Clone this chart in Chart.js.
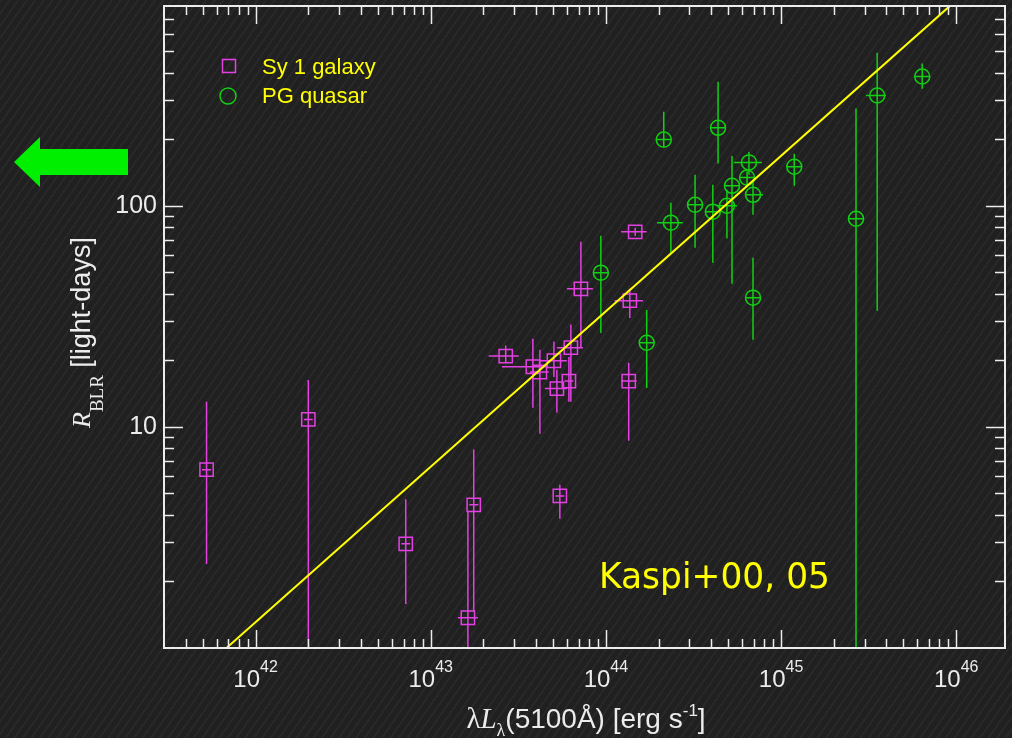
<!DOCTYPE html>
<html>
<head>
<meta charset="utf-8">
<script src="https://cdn.jsdelivr.net/npm/chart.js@4"></script>
<style>
body{margin:0;background:#202020;}
#wrap{position:relative;width:1012px;height:738px;overflow:hidden;
  background-color:#202020;
  background-image:repeating-linear-gradient(125deg,rgba(255,255,255,0.035) 0 2px,transparent 2px 7px);}
#chart{position:absolute;left:0;top:0;}
#arrow{position:absolute;left:0;top:0;}
</style>
</head>
<body>
<div id="wrap">
<canvas id="chart" width="1012" height="738"></canvas>
<svg id="arrow" width="140" height="200"><polygon points="14,162 40,137 40,149 128,149 128,175 40,175 40,187" fill="#00ee00"/></svg>
</div>
<script>
// Sy 1 galaxies (magenta squares)
syL   = [5.25e41, 2.0e42, 7.2e42, 1.76e43, 1.63e43, 5.46e43, 2.68e43, 3.83e43, 4.2e43, 5.05e43, 6.31e43, 5.25e43, 6.15e43, 7.2e43, 1.47e44, 1.37e44, 1.35e44]
syLlo = [4.95e41, 1.885e42, 6.79e42, 1.66e43, 1.43e43, 5.15e43, 2.14e43, 2.55e43, 3.68e43, 4.2e43, 5.25e43, 4.48e43, 5.8e43, 5.99e43, 1.22e44, 1.12e44, 1.22e44]
syLhi = [5.57e41, 2.12e42, 7.64e42, 1.87e43, 1.86e43, 5.79e43, 3.18e43, 4.67e43, 4.72e43, 5.99e43, 7.4e43, 5.99e43, 6.52e43, 8.43e43, 1.71e44, 1.63e44, 1.5e44]
syR   = [6.4, 10.8, 2.96, 4.44, 1.37, 4.87, 20.9, 18.7, 17.7, 19.9, 22.8, 14.9, 16.1, 42.1, 76.2, 37.2, 16.1]
syRlo = [2.4, 0.5, 1.58, 1.46, 0.5, 3.84, 19.5, 12.2, 9.3, 16.8, 13.0, 11.6, 13.0, 22.8, 72.9, 31.1, 8.65]
syRhi = [13.0, 16.3, 4.7, 7.9, 4.17, 5.47, 23.3, 25.0, 22.3, 24.3, 29.0, 18.1, 20.7, 68.7, 79.6, 42.1, 19.5]

// PG quasars (green circles)
pgL   = [9.36e43, 1.71e44, 2.35e44, 2.14e44, 4.37e44, 3.23e44, 4.08e44, 4.91e44, 5.25e44, 6.56e44, 6.4e44, 6.92e44, 6.92e44, 1.19e45, 2.68e45, 3.54e45, 6.4e45]
pgLlo = [8.48e43, 1.55e44, 1.96e44, 1.94e44, 3.96e44, 2.93e44, 3.7e44, 4.3e44, 4.76e44, 5.39e44, 5.8e44, 6.22e44, 6.27e44, 1.08e45, 2.43e45, 3.06e45, 5.8e45]
pgLhi = [1.03e44, 1.89e44, 2.75e44, 2.36e44, 4.82e44, 3.57e44, 4.5e44, 5.6e44, 5.8e44, 7.78e44, 7.07e44, 7.89e44, 7.64e44, 1.31e45, 2.96e45, 3.98e45, 7.07e45]
pgR   = [49.8, 24.0, 83.8, 199, 225, 101, 94, 100, 123, 157, 134, 112, 38.4, 150, 87.3, 315, 384]
pgRlo = [26.6, 15.0, 61.2, 183, 155, 64.6, 55.2, 71, 44.4, 138, 122, 91, 24.8, 123, 0.5, 33.5, 338]
pgRhi = [73.1, 33.8, 103, 266, 364, 138, 124.5, 118, 168, 175, 143, 131, 58.2, 172, 275, 492, 440]

// fit line end points
fitL = [6.82e41, 9.25e45]
fitR = [1, 803]

xDecades = [42, 43, 44, 45, 46]
yTickVals = [10, 100]

magenta = '#e440e4'
green = '#12d012'
yellow = '#ffff00'
axisCol = '#ececec'
sans = '"Liberation Sans", Arial, sans-serif'
serif = '"Liberation Serif", "Times New Roman", serif'

function pts(xs, ys) {
  return xs.map((v, i) => ({x: v, y: ys[i]}))
}

const errorBars = {
  id: 'errorBars',
  beforeDatasetsDraw(chart) {
    const ctx = chart.ctx, a = chart.chartArea, x = chart.scales.x, y = chart.scales.y
    ctx.save()
    ctx.beginPath()
    ctx.rect(a.left, a.top, a.right - a.left, a.bottom - a.top)
    ctx.clip()
    chart.data.datasets.forEach(ds => {
      if (!ds.err) return
      ctx.strokeStyle = ds.borderColor
      ctx.lineWidth = 1.5
      ds.data.forEach((p, i) => {
        const px = x.getPixelForValue(p.x), py = y.getPixelForValue(p.y)
        ctx.beginPath()
        ctx.moveTo(x.getPixelForValue(ds.err.xlo[i]), py)
        ctx.lineTo(x.getPixelForValue(ds.err.xhi[i]), py)
        ctx.moveTo(px, y.getPixelForValue(ds.err.ylo[i]))
        ctx.lineTo(px, y.getPixelForValue(ds.err.yhi[i]))
        ctx.stroke()
      })
    })
    ctx.restore()
  }
}

// draws a run of [text, font, dy] pieces, returns width
function runText(ctx, parts, x, y, measureOnly) {
  let w = 0
  parts.forEach(p => {
    ctx.font = p[1]
    if (!measureOnly) ctx.fillText(p[0], x + w, y + (p[2] || 0))
    w += ctx.measureText(p[0]).width
  })
  return w
}

const frame = {
  id: 'frame',
  afterDraw(chart) {
    const ctx = chart.ctx, a = chart.chartArea, x = chart.scales.x, y = chart.scales.y
    ctx.save()
    // ticks
    ctx.strokeStyle = axisCol
    ctx.lineWidth = 1.5
    ctx.beginPath()
    for (let d = 41; d <= 46; d++) {
      for (let k = 1; k <= 9; k++) {
        const v = k * Math.pow(10, d)
        if (v <= x.min || v >= x.max) continue
        const px = Math.round(x.getPixelForValue(v)) + 0.5
        const len = k == 1 ? 18 : 9
        ctx.moveTo(px, a.bottom); ctx.lineTo(px, a.bottom - len)
        ctx.moveTo(px, a.top); ctx.lineTo(px, a.top + len)
      }
    }
    for (let d = 0; d <= 2; d++) {
      for (let k = 1; k <= 9; k++) {
        const v = k * Math.pow(10, d)
        if (v <= y.min || v >= y.max) continue
        const py = Math.round(y.getPixelForValue(v)) + 0.5
        const len = k == 1 ? 19 : 10
        ctx.moveTo(a.left, py); ctx.lineTo(a.left + len, py)
        ctx.moveTo(a.right, py); ctx.lineTo(a.right - len, py)
      }
    }
    ctx.stroke()
    ctx.lineWidth = 2
    ctx.strokeRect(a.left, a.top, a.right - a.left, a.bottom - a.top)

    // tick labels
    ctx.fillStyle = axisCol
    ctx.textBaseline = 'alphabetic'
    ctx.textAlign = 'left'
    xDecades.forEach(d => {
      const parts = [['10', '24px ' + sans, 0], [String(d), '16px ' + sans, -15]]
      const w = runText(ctx, parts, 0, 0, true)
      runText(ctx, parts, x.getPixelForValue(Math.pow(10, d)) - w / 2, 687)
    })
    ctx.textAlign = 'right'
    ctx.textBaseline = 'middle'
    ctx.font = '25px ' + sans
    yTickVals.forEach(v => ctx.fillText(String(v), 157, y.getPixelForValue(v)))

    // axis titles
    ctx.textAlign = 'left'
    ctx.textBaseline = 'alphabetic'
    const xt = [['λ', '29px ' + serif, 0], ['L', 'italic 29px ' + serif, 0], ['λ', '18px ' + serif, 8],
      ['(5100Å) [erg s', '28px ' + sans, 0], ['-1', '17px ' + sans, -12], [']', '28px ' + sans, 0]]
    const xw = runText(ctx, xt, 0, 0, true)
    runText(ctx, xt, 586 - xw / 2, 728)

    ctx.save()
    ctx.translate(90, 428)
    ctx.rotate(-Math.PI / 2)
    runText(ctx, [['R', 'italic 26px ' + serif, 0], ['BLR', '19px ' + serif, 13], [' [light-days]', '27px ' + sans, 0]], 0, 0)
    ctx.restore()

    // legend
    ctx.strokeStyle = magenta
    ctx.lineWidth = 1.5
    ctx.strokeRect(222.5, 59.5, 13, 13)
    ctx.strokeStyle = green
    ctx.beginPath()
    ctx.arc(228, 96, 8, 0, Math.PI * 2)
    ctx.stroke()
    ctx.fillStyle = yellow
    ctx.font = '22px ' + sans
    ctx.fillText('Sy 1 galaxy', 262, 74)
    ctx.fillText('PG quasar', 262, 103)

    // note
    ctx.font = '36px "Comic Sans MS", "DejaVu Sans", sans-serif'
    ctx.fillText('Kaspi+00, 05', 599, 588, 231)
    ctx.restore()
  }
}

var ctx = document.getElementById('chart').getContext('2d')
var myChart = new Chart(ctx, {
  type: 'scatter',
  data: {
    datasets: [{
      type: 'line',
      label: 'fit',
      data: pts(fitL, fitR),
      borderColor: yellow,
      borderWidth: 2,
      pointRadius: 0,
      showLine: true
    }, {
      label: 'Sy 1 galaxy',
      data: pts(syL, syR),
      err: {xlo: syLlo, xhi: syLhi, ylo: syRlo, yhi: syRhi},
      pointStyle: 'rect',
      pointRadius: 9.4,
      borderColor: magenta,
      backgroundColor: 'rgba(0,0,0,0)',
      borderWidth: 1.5
    }, {
      label: 'PG quasar',
      data: pts(pgL, pgR),
      err: {xlo: pgLlo, xhi: pgLhi, ylo: pgRlo, yhi: pgRhi},
      pointStyle: 'circle',
      pointRadius: 7.5,
      borderColor: green,
      backgroundColor: 'rgba(0,0,0,0)',
      borderWidth: 1.5
    }]
  },
  options: {
    responsive: false,
    animation: false,
    layout: {autoPadding: false, padding: {top: 6, right: 7, left: 0, bottom: 0}},
    plugins: {legend: {display: false}, tooltip: {enabled: false}},
    scales: {
      x: {
        type: 'logarithmic', min: 3e41, max: 1.9e46,
        ticks: {display: false}, grid: {display: false}, border: {display: false},
        afterFit: s => { s.height = 90 }
      },
      y: {
        type: 'logarithmic', min: 1, max: 800,
        ticks: {display: false}, grid: {display: false}, border: {display: false},
        afterFit: s => { s.width = 164 }
      }
    }
  },
  plugins: [errorBars, frame]
});
</script>
</body>
</html>
